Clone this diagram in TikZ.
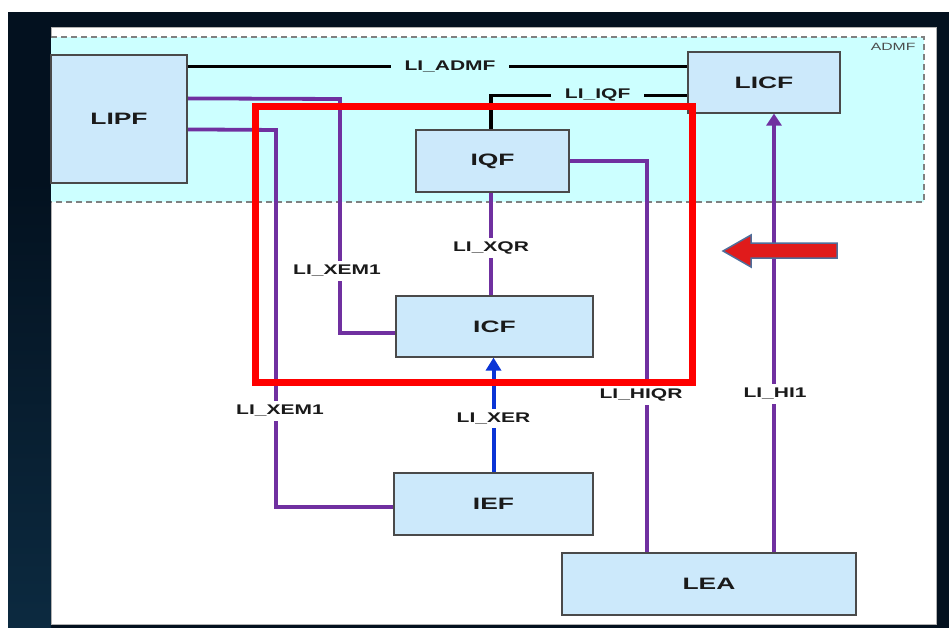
\documentclass[tikz,border=0pt]{standalone}
\usepackage{fontspec}
\setmainfont{Liberation Sans}
\newfontfamily\boxf[FakeStretch=1.6]{Liberation Sans}
\newfontfamily\lblf[FakeStretch=1.5]{Liberation Sans}
\usetikzlibrary{calc,arrows.meta}
\definecolor{navy}{HTML}{03111F}
\definecolor{navyl}{HTML}{0C2A40}
\definecolor{admf}{HTML}{CCFFFF}
\definecolor{boxfill}{HTML}{CCE9FB}
\definecolor{boxline}{HTML}{4A4A4A}
\definecolor{purp}{HTML}{7030A0}
\definecolor{blu}{HTML}{0A34D6}
\definecolor{txt}{HTML}{1A1A1A}
\definecolor{redarrow}{HTML}{E01B1B}
\definecolor{arrowedge}{HTML}{4F6E9A}
\begin{document}
\begin{tikzpicture}[x=1pt,y=-1pt,
  box/.style={draw=boxline, fill=boxfill, line width=1.2pt, inner sep=0pt,
    font=\boxf\bfseries\fontsize{16.5}{18}\selectfont, text=txt},
  lbl/.style={font=\lblf\bfseries\fontsize{14}{16}\selectfont, inner xsep=14pt, inner ysep=4pt, text=txt},
  lblc/.style={lbl, fill=admf},
  lblw/.style={lbl, fill=white},
  purpline/.style={draw=purp, line width=3.8pt},
  blkline/.style={draw=black, line width=3.3pt},
  bluline/.style={draw=blu, line width=4pt},
]
\useasboundingbox (0,0) rectangle (949,628);
% background
\fill[white] (0,0) rectangle (949,628);
\fill[navy] (8,12) rectangle (949,628);
\shade[top color=navy, bottom color=navyl] (8,180) rectangle (51,628);
% panel
\fill[white] (51,27) rectangle (936,624);
\draw[gray!60, line width=0.6pt] (51,27) rectangle (936,624);
% ADMF region
\fill[admf] (51,37) rectangle (924,202);
\draw[gray, line width=1.5pt, dash pattern=on 6pt off 4pt] (51,37) -- (924,37) -- (924,202) -- (51,202);
\node[font=\lblf\fontsize{10.5}{12}\selectfont, text=black!70, anchor=north east] (admflabel) at (919,40) {ADMF};

% boxes
\node[box, minimum width=136pt, minimum height=128pt] (LIPF) at (119,119) {LIPF};
\node[box, minimum width=152pt, minimum height=61pt] (LICF) at (764,82.5) {LICF};
\node[box, minimum width=153pt, minimum height=62pt] (IQF) at (492.5,161) {IQF};
\node[box, minimum width=197pt, minimum height=61pt] (ICF) at (494.5,326.5) {ICF};
\node[box, minimum width=199pt, minimum height=62pt] (IEF) at (493.5,504) {IEF};
\node[box, minimum width=294pt, minimum height=62pt] (LEA) at (709,584) {LEA};

% coordinates for bends
\coordinate (admfA) at ($(LIPF.north east)+(0,12)$);
\coordinate (iqfC) at ($(IQF.north)+(-1.5,-34)$);
\coordinate (x1a) at ($(LIPF.north east)+(0,44)$);
\coordinate (x1b) at (340,99);
\coordinate (x1c) at ($(ICF.west)+(0,6.5)$);
\coordinate (x2a) at ($(LIPF.north east)+(0,75)$);
\coordinate (x2b) at (276,130);
\coordinate (x2c) at ($(IEF.west)+(0,3)$);
\coordinate (hq2) at (647,161);
\coordinate (hi1) at (774,300);

% connectors
\draw[blkline] (admfA) -- (admfA -| LICF.west) node[lblc, pos=0.525] (lADMF) {LI\_ADMF};
\draw[blkline] (iqfC |- IQF.north) -- (iqfC) -- (iqfC -| LICF.west) node[lblc, pos=0.543] (lIQF) {LI\_IQF};
\draw[purpline] (x1a) -- (x1b) -- (x1b |- x1c) -- (x1c);
\node[lblw] (lXEM1a) at (337,271) {LI\_XEM1};
\draw[purpline] (x2a) -- (x2b) -- (x2b |- x2c) -- (x2c);
\node[lblw] (lXEM1b) at (280,411) {LI\_XEM1};
\draw[purpline] ($(IQF.south)+(-1.5,0)$) -- ($(IQF.south |- ICF.north)+(-1.5,0)$) node[lblw, pos=0.54] (lXQR) {LI\_XQR};
\draw[purpline] (IQF.east) -- (hq2) -- (hq2 |- LEA.north);
\node[lblw] (lHIQR) at (641,395) {LI\_HIQR};
\draw[purpline, -{Triangle[length=12pt,width=15pt]}] (hi1 |- LEA.north) -- (hi1 |- LICF.south);
\node[lblw] (lHI1) at (775,394) {LI\_HI1};
\draw[bluline, -{Triangle[length=13pt,width=15pt]}] (IEF.north) -- (IEF.north |- ICF.south) node[lblw, pos=0.47] (lXER) {LI\_XER};

% redraw box borders on top of connectors
\foreach \n in {LIPF,LICF,IQF,ICF,IEF,LEA}{
  \draw[boxline, line width=1.2pt] (\n.north west) rectangle (\n.south east);
}

% red highlight rectangle
\draw[red, line width=7pt] (255,107) rectangle (692,382);
% red arrow
\filldraw[fill=redarrow, draw=arrowedge, line width=1.5pt, line join=miter]
  (723,251) -- (751,235) -- (751,243) -- (837,243) -- (837,258) -- (751,258) -- (751,267) -- cycle;
\end{tikzpicture}
\end{document}
